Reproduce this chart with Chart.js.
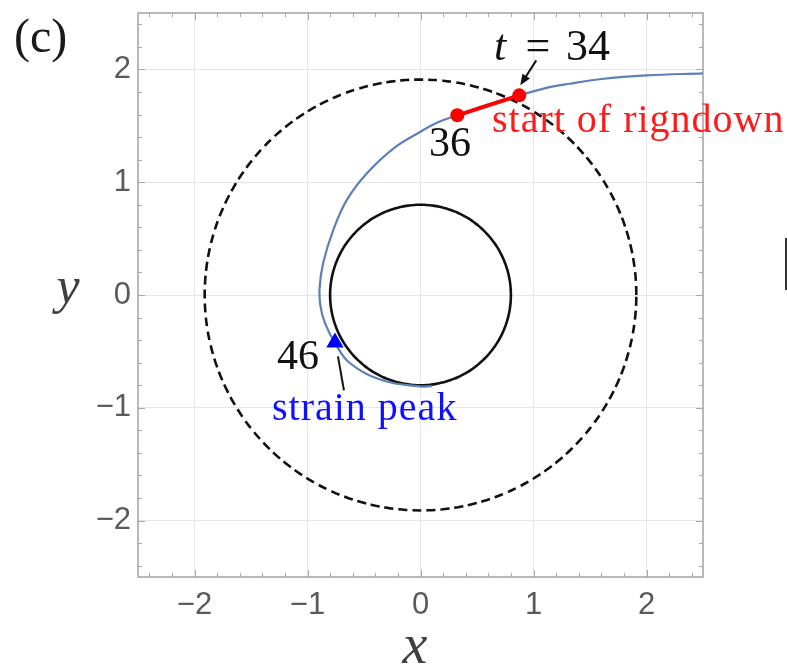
<!DOCTYPE html>
<html>
<head>
<meta charset="utf-8">
<script src="https://cdn.jsdelivr.net/npm/chart.js@4.4.1/dist/chart.umd.min.js"></script>
<style>
  html, body { margin: 0; padding: 0; background: #fff; }
</style>
</head>
<body>
<canvas id="orbitChart" width="787" height="672"></canvas>
<script>
// orbit path (x, y)
const orbitX = [2.5, 2.0, 1.6, 1.32, 1.09, 0.874, 0.6, 0.326, 0.15, -0.004, -0.24, -0.476, -0.653, -0.772, -0.86, -0.893, -0.885, -0.845, -0.757, -0.624, -0.33, -0.004, 0.1];
const orbitY = [1.965, 1.947, 1.915, 1.873, 1.83, 1.77, 1.69, 1.593, 1.53, 1.445, 1.298, 1.077, 0.841, 0.575, 0.29, 0.06, -0.1, -0.25, -0.425, -0.605, -0.758, -0.81, -0.808];

// ringdown segment, t = 34 -> 36
const ringdownX = [0.874, 0.326];
const ringdownY = [1.77, 1.593];

// strain peak, t = 46
const peakX = [-0.757];
const peakY = [-0.42];

// circle radii
const horizonRadius = 0.8;
const dashedRadius = 1.91;

// axis ticks
const majorTicks = [-2, -1, 0, 1, 2];
const allTicks = [-2.4, -2.2, -2, -1.8, -1.6, -1.4, -1.2, -1, -0.8, -0.6, -0.4, -0.2, 0,
  0.2, 0.4, 0.6, 0.8, 1, 1.2, 1.4, 1.6, 1.8, 2, 2.2, 2.4];

const toPoints = (xs, ys) => xs.map((v, i) => ({ x: v, y: ys[i] }));

function circle(r) {
  const pts = [];
  for (let i = 0; i <= 180; i++) {
    const a = i / 180 * 2 * Math.PI;
    pts.push({ x: r * Math.cos(a), y: r * Math.sin(a) });
  }
  return pts;
}

const isMajor = v => majorTicks.some(m => Math.abs(m - v) < 1e-9);
const tickLabel = v => isMajor(v) ? (v < 0 ? "\u2212" + Math.abs(v) : String(v)) : "";

const SERIF = "'Liberation Serif', 'Times New Roman', serif";

function write(ctx, str, x, y, font, color, align) {
  ctx.font = font;
  ctx.fillStyle = color;
  ctx.textAlign = align || "left";
  ctx.textBaseline = "alphabetic";
  ctx.fillText(str, x, y);
}

// frame with inward ticks, under the curves
const frame = {
  id: "frame",
  beforeDatasetsDraw(chart) {
    const { ctx, chartArea: a, scales: { x, y } } = chart;
    ctx.save();
    ctx.strokeStyle = "#a8a8a8";
    ctx.lineWidth = 1;
    allTicks.forEach(v => {
      const len = isMajor(v) ? 7 : 4;
      const px = Math.round(x.getPixelForValue(v)) + 0.5;
      const py = Math.round(y.getPixelForValue(v)) + 0.5;
      ctx.beginPath();
      ctx.moveTo(px, a.bottom); ctx.lineTo(px, a.bottom - len);
      ctx.moveTo(px, a.top); ctx.lineTo(px, a.top + len);
      ctx.moveTo(a.left, py); ctx.lineTo(a.left + len, py);
      ctx.moveTo(a.right, py); ctx.lineTo(a.right - len, py);
      ctx.stroke();
    });
    ctx.lineWidth = 1.6;
    ctx.strokeRect(a.left, a.top, a.right - a.left, a.bottom - a.top);
    ctx.restore();
  }
};

// labels, arrows and axis names
const labels = {
  id: "labels",
  afterDraw(chart) {
    const { ctx, scales: { x, y } } = chart;
    ctx.save();

    write(ctx, "(c)", 14, 52, "48px " + SERIF, "#1a1a1a");

    // axis names
    write(ctx, "y", 68, 303, "italic 52px " + SERIF, "#404040", "center");
    write(ctx, "x", 415, 663, "italic 56px " + SERIF, "#404040", "center");

    // t = 34 with arrow to the start of ringdown
    write(ctx, "t", 494, 60, "italic 44px " + SERIF, "#111");
    write(ctx, "=", 538, 60, "44px " + SERIF, "#111", "center");
    write(ctx, "34", 566, 60, "44px " + SERIF, "#111");
    const sx = x.getPixelForValue(ringdownX[0]);
    const sy = y.getPixelForValue(ringdownY[0]);
    const tipX = sx + 1, tipY = sy - 10;
    const fromX = sx + 17, fromY = sy - 35;
    const ang = Math.atan2(tipY - fromY, tipX - fromX);
    ctx.strokeStyle = "#111";
    ctx.fillStyle = "#111";
    ctx.lineWidth = 2;
    ctx.beginPath();
    ctx.moveTo(fromX, fromY);
    ctx.lineTo(tipX - 6 * Math.cos(ang), tipY - 6 * Math.sin(ang));
    ctx.stroke();
    ctx.beginPath();
    ctx.moveTo(tipX, tipY);
    ctx.lineTo(tipX - 11 * Math.cos(ang) + 4.5 * Math.sin(ang), tipY - 11 * Math.sin(ang) - 4.5 * Math.cos(ang));
    ctx.lineTo(tipX - 11 * Math.cos(ang) - 4.5 * Math.sin(ang), tipY - 11 * Math.sin(ang) + 4.5 * Math.cos(ang));
    ctx.closePath();
    ctx.fill();

    write(ctx, "36", 429, 156, "42px " + SERIF, "#111");
    ctx.letterSpacing = "1px";
    write(ctx, "start of rigndown", 492, 132, "40px " + SERIF, "#ff1a1a");
    ctx.letterSpacing = "0px";

    // strain peak
    write(ctx, "46", 277, 369, "42px " + SERIF, "#111");
    const px = x.getPixelForValue(peakX[0]);
    const py = y.getPixelForValue(peakY[0]);
    ctx.lineWidth = 2;
    ctx.beginPath();
    ctx.moveTo(px + 3, py + 14);
    ctx.lineTo(px + 9, py + 48);
    ctx.stroke();
    ctx.letterSpacing = "1px";
    write(ctx, "strain peak", 272, 420, "40px " + SERIF, "#1010ff");
    ctx.letterSpacing = "0px";

    // edge of the neighbouring panel
    ctx.strokeStyle = "#333";
    ctx.lineWidth = 2;
    ctx.beginPath();
    ctx.moveTo(786, 238);
    ctx.lineTo(786, 290);
    ctx.stroke();

    ctx.restore();
  }
};

function axis(isX) {
  return {
    type: "linear",
    min: -2.5,
    max: 2.5,
    afterBuildTicks: s => { s.ticks = allTicks.map(v => ({ value: v })); },
    afterFit: s => {
      if (isX) { s.height = 95; s.paddingLeft = 0; s.paddingRight = 0; }
      else { s.width = 138; s.paddingTop = 0; s.paddingBottom = 0; }
    },
    grid: {
      drawTicks: false,
      lineWidth: 1,
      color: c => (c.tick && isMajor(c.tick.value)) ? "#e6e6e6" : "rgba(0,0,0,0)"
    },
    border: { display: false },
    ticks: {
      autoSkip: false,
      maxRotation: 0,
      padding: isX ? 10 : 7,
      color: "#5a5a5a",
      font: { family: "'Liberation Sans', Arial, sans-serif", size: 31 },
      callback: v => tickLabel(v)
    }
  };
}

new Chart(document.getElementById("orbitChart"), {
  type: "scatter",
  data: {
    datasets: [
      {
        label: "strain peak",
        data: toPoints(peakX, peakY),
        pointStyle: "triangle",
        pointRadius: 10,
        backgroundColor: "#0000ff",
        borderColor: "#0000ff",
        borderWidth: 0
      },
      {
        label: "ringdown",
        data: toPoints(ringdownX, ringdownY),
        showLine: true,
        borderColor: "#ff0000",
        borderWidth: 4,
        pointRadius: 7,
        backgroundColor: "#ff0000",
        pointBorderWidth: 0
      },
      {
        label: "orbit",
        data: toPoints(orbitX, orbitY),
        showLine: true,
        tension: 0.4,
        borderColor: "#5e81b5",
        borderWidth: 2.2,
        pointRadius: 0
      },
      {
        label: "horizon",
        data: circle(horizonRadius),
        showLine: true,
        tension: 0.2,
        borderColor: "#111",
        borderWidth: 2.6,
        pointRadius: 0
      },
      {
        label: "dashed",
        data: circle(dashedRadius),
        showLine: true,
        tension: 0.2,
        borderColor: "#111",
        borderWidth: 2.6,
        borderDash: [9, 5],
        pointRadius: 0
      }
    ]
  },
  options: {
    responsive: false,
    animation: false,
    devicePixelRatio: 1,
    layout: { padding: { left: 0, right: 84, top: 13, bottom: 0 } },
    plugins: { legend: { display: false }, tooltip: { enabled: false } },
    scales: { x: axis(true), y: axis(false) }
  },
  plugins: [frame, labels]
});
</script>
</body>
</html>
